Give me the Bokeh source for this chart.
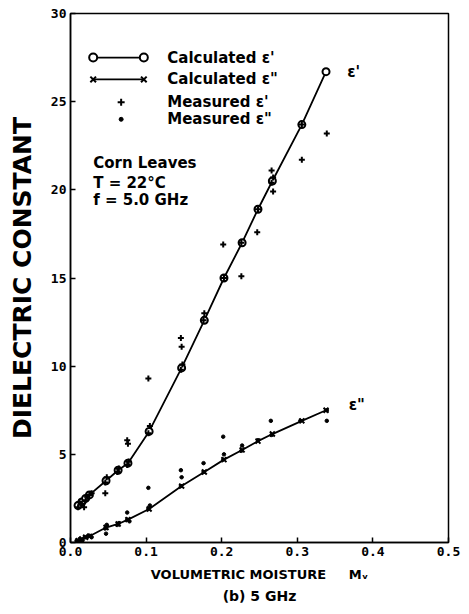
from bokeh.plotting import figure
from bokeh.models import Label, FixedTicker, Range1d, Title
from bokeh.embed import file_html
from bokeh.resources import INLINE

# ---------------- data ----------------
calc_x = [0.010, 0.015, 0.020, 0.025, 0.047, 0.063, 0.076, 0.104, 0.147,
          0.177, 0.203, 0.227, 0.248, 0.267, 0.306, 0.338]
calc_eps1 = [2.1, 2.3, 2.5, 2.7, 3.5, 4.1, 4.5, 6.3, 9.9,
             12.6, 15.0, 17.0, 18.9, 20.5, 23.7, 26.7]
calc_eps2 = [0.10, 0.20, 0.30, 0.35, 0.85, 1.05, 1.30, 1.90, 3.20,
             4.00, 4.70, 5.25, 5.75, 6.15, 6.90, 7.50]

meas1_x = [0.010, 0.012, 0.015, 0.018, 0.020, 0.022, 0.025, 0.028, 0.046, 0.048,
           0.046, 0.062, 0.064, 0.075, 0.077, 0.075, 0.076, 0.103, 0.105, 0.103,
           0.146, 0.148, 0.146, 0.147, 0.176, 0.177, 0.203, 0.202, 0.226, 0.226,
           0.248, 0.247, 0.266, 0.268, 0.266, 0.268, 0.306, 0.306, 0.339]
meas1_y = [2.0, 2.3, 2.2, 2.0, 2.4, 2.6, 2.7, 2.8, 3.4, 3.7,
           2.8, 4.0, 4.2, 4.4, 4.6, 5.8, 5.6, 6.2, 6.6, 9.3,
           9.8, 10.1, 11.6, 11.1, 12.6, 13.0, 15.0, 16.9, 17.0, 15.1,
           18.9, 17.6, 20.4, 20.7, 21.1, 19.9, 23.7, 21.7, 23.2]

meas2_x = [0.008, 0.012, 0.015, 0.020, 0.024, 0.028, 0.046, 0.047, 0.048, 0.062,
           0.064, 0.075, 0.075, 0.078, 0.103, 0.105, 0.103, 0.146, 0.146, 0.147,
           0.176, 0.176, 0.202, 0.202, 0.203, 0.226, 0.227, 0.248, 0.266, 0.265,
           0.304, 0.339, 0.339]
meas2_y = [0.1, 0.2, 0.1, 0.3, 0.4, 0.3, 0.8, 0.5, 1.0, 1.0,
           1.1, 1.3, 1.7, 1.2, 1.9, 2.1, 3.1, 3.2, 4.1, 3.7,
           4.0, 4.5, 4.7, 6.0, 5.0, 5.2, 5.5, 5.8, 6.1, 6.9,
           6.9, 7.5, 6.9]

x_ticks = [0.0, 0.1, 0.2, 0.3, 0.4, 0.5]
x_tick_labels = ["0.0", "0.1", "0.2", "0.3", "0.4", "0.5"]
y_ticks = [0, 5, 10, 15, 20, 25, 30]
y_tick_labels = ["0", "5", "10", "15", "20", "25", "30"]

FONT = "DejaVu Sans"
NB = "\u00a0"

p = figure(width=469, height=614, x_range=Range1d(0, 0.5), y_range=Range1d(0, 30),
           output_backend="svg", toolbar_location=None,
           min_border_left=70, min_border_right=21, min_border_top=13,
           min_border_bottom=72)
p.grid.visible = False
p.outline_line_color = "black"
p.outline_line_width = 1.5
p.background_fill_color = "white"
p.border_fill_color = "white"

p.xaxis.ticker = FixedTicker(ticks=x_ticks)
p.xaxis.major_label_overrides = dict(zip(x_ticks, x_tick_labels))
p.yaxis.ticker = FixedTicker(ticks=y_ticks)
p.yaxis.major_label_overrides = dict(zip(y_ticks, y_tick_labels))
for ax in (p.xaxis[0], p.yaxis[0]):
    ax.major_tick_in = 5
    ax.major_tick_out = 0
    ax.minor_tick_in = 0
    ax.minor_tick_out = 0
    ax.axis_line_width = 1.5
    ax.major_tick_line_width = 1.5
    ax.major_label_text_font = "DejaVu Sans Mono"
    ax.major_label_text_font_style = "bold"
    ax.major_label_text_font_size = "13px"
    ax.major_label_text_color = "black"
    ax.major_label_standoff = 4
    ax.axis_label_text_font = FONT
    ax.axis_label_text_font_style = "bold"
    ax.axis_label_text_color = "black"

p.yaxis.axis_label = "DIELECTRIC CONSTANT"
p.yaxis.axis_label_text_font_size = "25px"
p.yaxis.axis_label_standoff = 11
p.xaxis.axis_label = "VOLUMETRIC MOISTURE" + NB * 5 + "M\u1d65"
p.xaxis.axis_label_text_font_size = "13px"
p.xaxis.axis_label_standoff = 8

sub = Title(text="(b) 5 GHz", align="center", text_font=FONT, text_font_style="bold",
            text_font_size="14px", text_color="black", standoff=3)
p.add_layout(sub, "below")

# calculated curves
p.line(calc_x, calc_eps1, line_color="black", line_width=1.8)
p.line(calc_x, calc_eps2, line_color="black", line_width=1.8)
p.scatter(calc_x, calc_eps1, marker="circle", size=7, fill_color="white",
          line_color="black", line_width=2)
p.scatter(calc_x, calc_eps2, marker="x", size=7, line_color="black", line_width=2)

# measured
p.scatter(meas1_x, meas1_y, marker="cross", size=6, line_color="black", line_width=2)
p.scatter(meas2_x, meas2_y, marker="circle", size=3.5, fill_color="black",
          line_color="black")

# ---------- legend (drawn manually) ----------
lx0, lx1, lxm, ltx = 0.030, 0.097, 0.067, 0.128
ly = [27.5, 26.26, 24.96, 24.0]
p.line([lx0, lx1], [ly[0], ly[0]], line_color="black", line_width=1.8)
p.scatter([lx0, lx1], [ly[0], ly[0]], marker="circle", size=8, fill_color="white",
          line_color="black", line_width=2)
p.line([lx0, lx1], [ly[1], ly[1]], line_color="black", line_width=1.8)
p.scatter([lx0, lx1], [ly[1], ly[1]], marker="x", size=8, line_color="black", line_width=2)
p.scatter([lxm], [ly[2]], marker="cross", size=7, line_color="black", line_width=2)
p.scatter([lxm], [ly[3]], marker="circle", size=4, fill_color="black", line_color="black")

legend_texts = ["Calculated \u03b5'", 'Calculated \u03b5"', "Measured \u03b5'", 'Measured \u03b5"']
for t, yy in zip(legend_texts, ly):
    p.add_layout(Label(x=ltx, y=yy, text=t, text_font=FONT, text_font_style="bold",
                       text_font_size="15px", text_baseline="middle", text_color="black"))

for t, yy in zip(["Corn Leaves", "T = 22\u00b0C", "f = 5.0 GHz"], [21.5, 20.4, 19.4]):
    p.add_layout(Label(x=0.030, y=yy, text=t, text_font=FONT, text_font_style="bold",
                       text_font_size="15px", text_baseline="middle", text_color="black"))

# curve labels
p.add_layout(Label(x=0.366, y=26.7, text="\u03b5'", text_font=FONT, text_font_style="bold",
                   text_font_size="15px", text_baseline="middle", text_color="black"))
p.add_layout(Label(x=0.368, y=7.8, text='\u03b5"', text_font=FONT, text_font_style="bold",
                   text_font_size="15px", text_baseline="middle", text_color="black"))

open("out.html", "w").write(file_html(p, INLINE))
